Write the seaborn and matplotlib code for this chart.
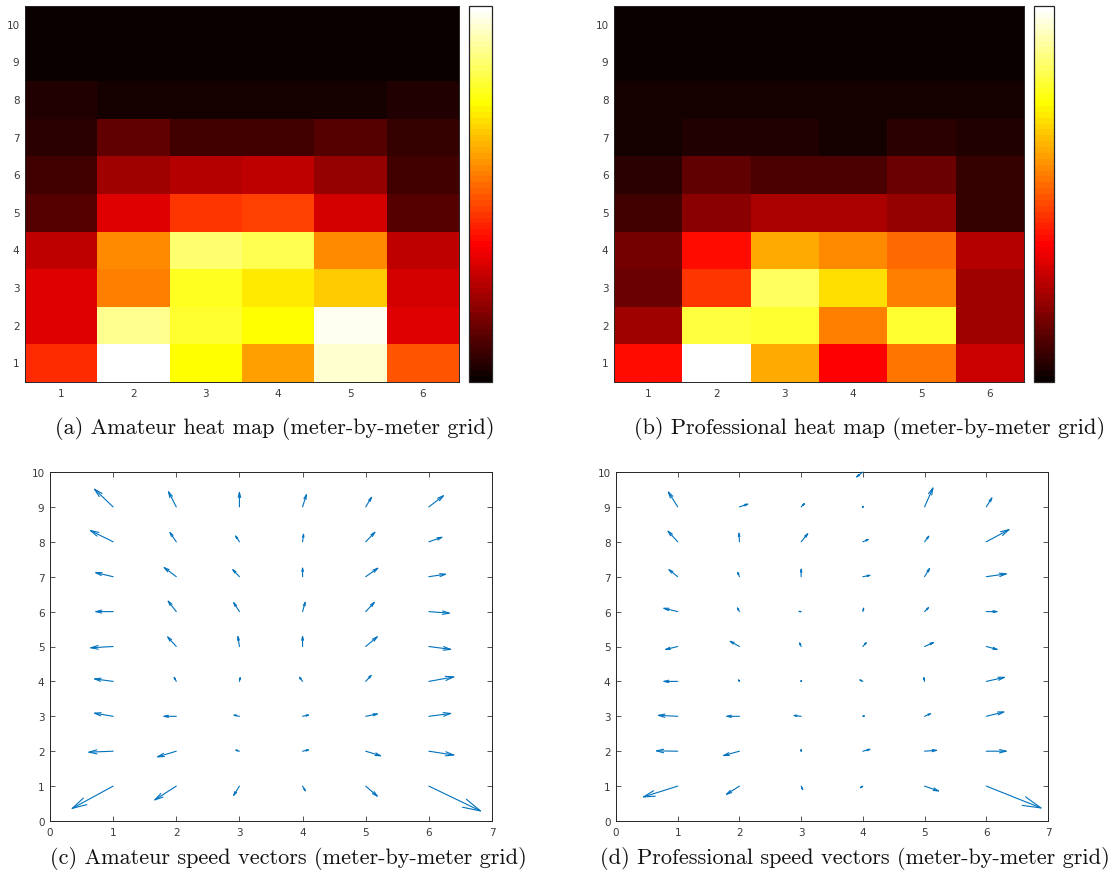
import numpy as np
import pandas as pd
import matplotlib
matplotlib.use("Agg")
import matplotlib.pyplot as plt
import seaborn as sns

# ---------------- data ----------------
# heat map values (normalised 0..1), rows listed from y=10 (top) down to y=1
rows = [10, 9, 8, 7, 6, 5, 4, 3, 2, 1]
cols = [1, 2, 3, 4, 5, 6]
amateur_heat = [
    [0.00, 0.00, 0.00, 0.00, 0.00, 0.00],
    [0.011, 0.011, 0.011, 0.011, 0.011, 0.011],
    [0.036, 0.026, 0.026, 0.026, 0.026, 0.044],
    [0.059, 0.126, 0.089, 0.081, 0.116, 0.074],
    [0.081, 0.223, 0.253, 0.268, 0.208, 0.089],
    [0.111, 0.328, 0.440, 0.455, 0.298, 0.111],
    [0.268, 0.574, 0.846, 0.826, 0.574, 0.268],
    [0.328, 0.552, 0.766, 0.716, 0.664, 0.298],
    [0.328, 0.885, 0.786, 0.746, 0.980, 0.313],
    [0.425, 1.000, 0.746, 0.604, 0.945, 0.492],
]
pro_heat = [
    [0.000, 0.000, 0.000, 0.000, 0.000, 0.000],
    [0.005, 0.005, 0.005, 0.005, 0.005, 0.005],
    [0.016, 0.016, 0.016, 0.016, 0.016, 0.026],
    [0.022, 0.041, 0.041, 0.017, 0.051, 0.036],
    [0.059, 0.126, 0.104, 0.101, 0.141, 0.074],
    [0.081, 0.201, 0.246, 0.246, 0.208, 0.074],
    [0.171, 0.387, 0.619, 0.574, 0.529, 0.253],
    [0.156, 0.447, 0.836, 0.694, 0.559, 0.223],
    [0.223, 0.806, 0.791, 0.559, 0.791, 0.223],
    [0.387, 1.000, 0.619, 0.365, 0.537, 0.283],
]

# speed vectors: origins on the meter grid, components (u, v) per column x = 1..6, rows y = 1..9
vec_x = [1, 2, 3, 4, 5, 6]
vec_y = [1, 2, 3, 4, 5, 6, 7, 8, 9]
amateur_u = [
    [-0.68, -0.42, -0.33, -0.33, -0.39, -0.31, -0.31, -0.39, -0.32],
    [-0.37, -0.33, -0.23, -0.05, -0.16, -0.15, -0.22, -0.12, -0.14],
    [-0.11, -0.09, -0.12, 0.02, -0.03, -0.11, -0.13, -0.08, 0.00],
    [0.06, 0.13, 0.13, -0.07, 0.00, 0.05, 0.00, 0.02, 0.07],
    [0.21, 0.27, 0.22, 0.11, 0.21, 0.16, 0.22, 0.17, 0.11],
    [0.85, 0.43, 0.38, 0.43, 0.38, 0.36, 0.30, 0.24, 0.26],
]
amateur_v = [
    [-0.67, -0.03, 0.10, 0.08, -0.04, 0.00, 0.13, 0.35, 0.55],
    [-0.43, -0.18, 0.00, 0.17, 0.32, 0.35, 0.30, 0.32, 0.49],
    [-0.32, 0.05, 0.05, 0.17, 0.35, 0.31, 0.25, 0.22, 0.48],
    [-0.19, 0.05, 0.05, 0.17, 0.35, 0.33, 0.31, 0.28, 0.41],
    [-0.33, -0.15, 0.08, 0.22, 0.32, 0.31, 0.28, 0.32, 0.33],
    [-0.74, -0.12, 0.09, 0.14, -0.09, -0.05, 0.08, 0.15, 0.36],
]
pro_u = [
    [-0.59, -0.38, -0.35, -0.26, -0.23, -0.26, -0.17, -0.18, -0.17],
    [-0.24, -0.29, -0.24, -0.03, -0.18, -0.05, -0.04, -0.01, 0.17],
    [0.04, 0.00, -0.15, 0.01, -0.04, -0.07, 0.00, 0.13, 0.08],
    [-0.07, 0.15, 0.06, -0.08, 0.08, 0.02, 0.15, 0.12, 0.04],
    [0.26, 0.23, 0.13, -0.02, 0.18, 0.09, 0.10, 0.09, 0.15],
    [0.92, 0.36, 0.32, 0.33, 0.21, 0.21, 0.36, 0.40, 0.11],
]
pro_v = [
    [-0.33, 0.01, 0.03, 0.00, -0.10, 0.11, 0.24, 0.35, 0.48],
    [-0.27, -0.14, 0.00, 0.10, 0.18, 0.16, 0.18, 0.31, 0.10],
    [-0.16, 0.10, 0.03, 0.09, 0.16, 0.01, 0.28, 0.28, 0.14],
    [-0.08, 0.07, 0.03, 0.07, 0.16, 0.16, 0.05, 0.09, 0.03],
    [-0.16, 0.03, 0.10, 0.17, 0.14, 0.16, 0.29, 0.21, 0.60],
    [-0.65, 0.00, 0.14, 0.13, -0.10, 0.00, 0.09, 0.38, 0.31],
]
# extra vector on the top edge of the professional grid
pro_extra = dict(x=4, y=10, u=-0.13, v=-0.18)

captions = [
    "(a) Amateur heat map (meter-by-meter grid)",
    "(b) Professional heat map (meter-by-meter grid)",
    "(c) Amateur speed vectors (meter-by-meter grid)",
    "(d) Professional speed vectors (meter-by-meter grid)",
]

# ---------------- style ----------------
sns.set_style("white")
plt.rcParams["font.family"] = ["DejaVu Sans"]
TICK_COLOR = "#3a3a3a"
SPINE_COLOR = "#262626"
ARROW_COLOR = "#0072BD"

W, H = 1114, 879
fig = plt.figure(figsize=(W / 100, H / 100), dpi=100)


def frac(left, top, right, bottom):
    return [left / W, 1 - bottom / H, (right - left) / W, (bottom - top) / H]


cmap = plt.get_cmap("hot", 64)
tick_kw = dict(axis="both", direction="in", length=3.5, width=0.6,
               colors=TICK_COLOR, labelsize=7.5, top=True, right=True,
               bottom=True, left=True, labeltop=False, labelright=False, pad=4)


def style_spines(ax, lw=0.7):
    for s in ax.spines.values():
        s.set_visible(True)
        s.set_color(SPINE_COLOR)
        s.set_linewidth(lw)


def draw_heat(values, ax_rect, cbar_rect):
    ax = fig.add_axes(ax_rect)
    cax = fig.add_axes(cbar_rect)
    df = pd.DataFrame(values, index=rows, columns=cols)
    sns.heatmap(df, ax=ax, cbar_ax=cax, cmap=cmap, vmin=0, vmax=1,
                cbar_kws={"ticks": []}, square=False)
    ax.tick_params(**tick_kw)
    plt.setp(ax.get_yticklabels(), rotation=0)
    plt.setp(ax.get_xticklabels(), rotation=0)
    ax.set_xlabel("")
    ax.set_ylabel("")
    style_spines(ax)
    cb = ax.collections[0].colorbar
    if cb is not None:
        cb.outline.set_visible(True)
        cb.outline.set_edgecolor(SPINE_COLOR)
        cb.outline.set_linewidth(0.9)
    return ax


def draw_vectors(ax_rect, U, V, extra=None):
    ax = fig.add_axes(ax_rect)
    ax.set_xlim(0, 7)
    ax.set_ylim(0, 10)
    ax.set_xticks(range(0, 8))
    ax.set_yticks(range(0, 11))
    ax.tick_params(**tick_kw)
    style_spines(ax)
    fig.canvas.draw()
    trans = ax.transData
    pts_per_px = 72 / fig.dpi

    def arrow(x0, y0, u, v):
        p0 = trans.transform((x0, y0))
        p1 = trans.transform((x0 + u, y0 + v))
        L = np.hypot(*(p1 - p0)) * pts_per_px
        if L < 0.3:
            return
        ax.annotate("", xy=(x0 + u, y0 + v), xytext=(x0, y0), xycoords="data",
                    arrowprops=dict(arrowstyle=f"->,head_length={0.30 * L:.3f},head_width={0.075 * L:.3f}",
                                    color=ARROW_COLOR, lw=0.8, shrinkA=0, shrinkB=0,
                                    mutation_scale=1))

    for i, x0 in enumerate(vec_x):
        for j, y0 in enumerate(vec_y):
            arrow(x0, y0, U[i][j], V[i][j])
    if extra is not None:
        arrow(extra["x"], extra["y"], extra["u"], extra["v"])
    return ax


draw_heat(amateur_heat, frac(25, 7, 459, 383), frac(469, 7, 492, 383))
draw_heat(pro_heat, frac(614, 7, 1024, 383), frac(1034, 7, 1054, 383))
draw_vectors(frac(50, 473, 492, 822), amateur_u, amateur_v)
draw_vectors(frac(616, 473, 1048, 822), pro_u, pro_v, pro_extra)

cap_kw = dict(ha="center", va="center", fontsize=16, family="cmr10", color="#111111")
fig.text(275 / W, 1 - 429 / H, captions[0], **cap_kw)
fig.text(870 / W, 1 - 429 / H, captions[1], **cap_kw)
fig.text(288 / W, 1 - 859 / H, captions[2], **cap_kw)
fig.text(855 / W, 1 - 859 / H, captions[3], **cap_kw)

fig.savefig("out.png", dpi=100)
